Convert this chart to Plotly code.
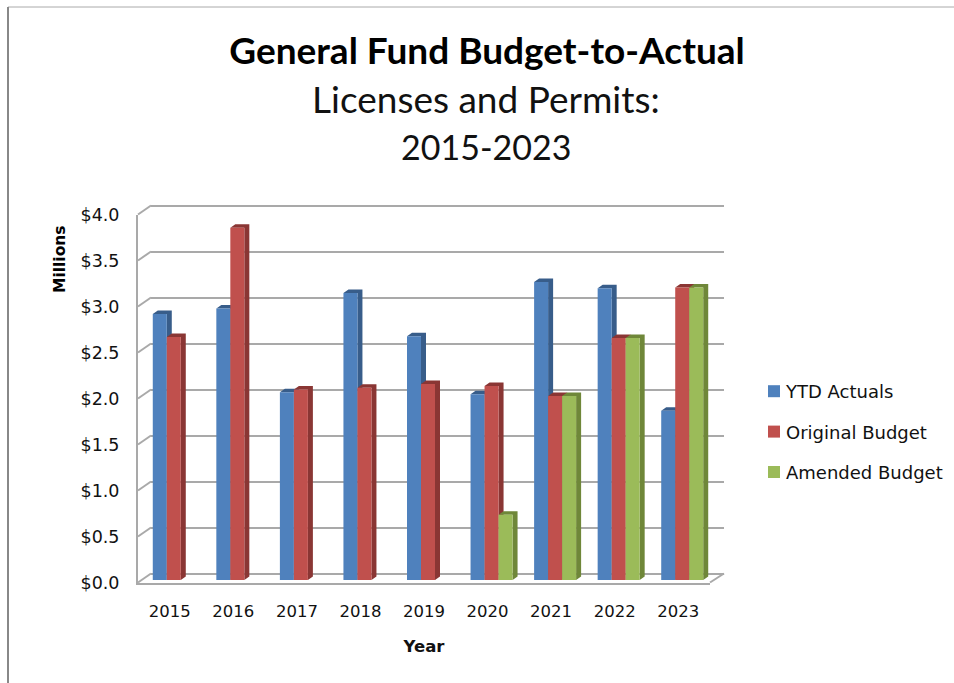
import plotly.graph_objects as go

years = ["2015", "2016", "2017", "2018", "2019", "2020", "2021", "2022", "2023"]
ytd_actuals = [2.89, 2.95, 2.04, 3.12, 2.65, 2.02, 3.24, 3.17, 1.84]
original_budget = [2.64, 3.83, 2.07, 2.09, 2.13, 2.11, 2.00, 2.63, 3.18]
amended_budget = [None, None, None, None, None, 0.71, 2.00, 2.63, 3.18]
y_ticks = [0, 0.5, 1, 1.5, 2, 2.5, 3, 3.5, 4]
y_labels = ["$0.0", "$0.5", "$1.0", "$1.5", "$2.0", "$2.5", "$3.0", "$3.5", "$4.0"]

W, H = 954, 683
FONT = "DejaVu Sans"
TXT = "#111111"
GRID = "#a9a9a9"
BAR_W = 14 / 63.55
DX = 5 / 63.55
DY = 3.5 / 92
GAP = 1 - 3 * BAR_W
xpos = list(range(len(years)))
series = [
    ("YTD Actuals", ytd_actuals, "#4f81bd", "#385d8a", -1),
    ("Original Budget", original_budget, "#c0504d", "#8a3634", 0),
    ("Amended Budget", amended_budget, "#9bbb59", "#6f8739", 1),
]


def px(x):
    return x / W


def py(y):
    return 1 - y / H


fig = go.Figure()

# Bevel (depth faces) drawn under the front faces, derived from the values
for name, vals, col, dark, k in series:
    xs, ys = [], []
    for i, v in zip(xpos, vals):
        if v is None:
            continue
        l = i + (k - 0.5) * BAR_W
        r = l + BAR_W
        xs += [l, l + DX, r + DX, r + DX, r, r, None]
        ys += [v, v + DY, v + DY, DY, 0, v, None]
    fig.add_trace(go.Scatter(x=xs, y=ys, mode="lines", fill="toself", fillcolor=dark,
                             line=dict(width=0, color=dark), hoverinfo="skip",
                             showlegend=False, xaxis="x2", yaxis="y2"))

# Front faces
for name, vals, col, dark, k in series:
    fig.add_trace(go.Bar(x=xpos, y=vals, name=name, marker=dict(color=col, line=dict(width=0)),
                         legendgroup=name, xaxis="x3", yaxis="y3"))

# Invisible traces that anchor the back wall and the front axes
fig.add_trace(go.Scatter(x=[0], y=[0], mode="markers", marker=dict(opacity=0), showlegend=False,
                         hoverinfo="skip", xaxis="x", yaxis="y"))
fig.add_trace(go.Scatter(x=[0], y=[0], mode="markers", marker=dict(opacity=0), showlegend=False,
                         hoverinfo="skip", xaxis="x4", yaxis="y4"))

xrange = [-0.5, len(years) - 0.5]
hidden = dict(showticklabels=False, showgrid=False, zeroline=False, ticks="", showline=False)

# Wall corners and floor
FL, FR, BL, BR = 138, 710, 151, 724
F0, F4, B0, B4 = 582.5, 214.5, 573.5, 205.5
PAD = 0.1
UNIT = (B0 - B4) / 4
shapes = []
for t in y_ticks:
    fy = F0 + (F4 - F0) * t / 4
    by = B0 + (B4 - B0) * t / 4
    shapes.append(dict(type="line", xref="paper", yref="paper", x0=px(FL), y0=py(fy), x1=px(BL), y1=py(by),
                       line=dict(color=GRID, width=2), layer="below"))
shapes.append(dict(type="line", xref="paper", yref="paper", x0=px(FR), y0=py(F0), x1=px(BR), y1=py(B0),
                   line=dict(color=GRID, width=2), layer="below"))
# Screenshot border
shapes.append(dict(type="line", xref="paper", yref="paper", x0=px(8), y0=py(7), x1=1, y1=py(7),
                   line=dict(color="#aaaaaa", width=1)))
shapes.append(dict(type="line", xref="paper", yref="paper", x0=px(8), y0=py(7), x1=px(8), y1=0,
                   line=dict(color="#888888", width=2)))

fig.update_layout(
    width=W, height=H, autosize=False,
    margin=dict(l=0, r=0, t=0, b=0, pad=0, autoexpand=False),
    paper_bgcolor="white", plot_bgcolor="rgba(0,0,0,0)",
    barmode="group", bargap=GAP, bargroupgap=0,
    font=dict(family=FONT, color=TXT),
    shapes=shapes,
    title=dict(text="<b>General Fund Budget-to-Actual</b>", x=487 / W, xanchor="center",
               y=py(51), yanchor="middle", xref="paper", yref="paper",
               font=dict(family="Lato", size=37, color="#000000")),
    annotations=[
        dict(text="Licenses and Permits:", x=px(486), y=py(98), xref="paper", yref="paper", showarrow=False,
             xanchor="center", yanchor="middle", font=dict(family="Lato", size=37, color="#111111")),
        dict(text="2015-2023", x=px(486), y=py(146), xref="paper", yref="paper", showarrow=False,
             xanchor="center", yanchor="middle", font=dict(family="Lato", size=34, color="#111111")),
        dict(text="<b>Millions</b>", x=px(60), y=py(259), xref="paper", yref="paper", showarrow=False, textangle=-90,
             xanchor="center", yanchor="middle", font=dict(family=FONT, size=15.5, color="#000000")),
    ],
    legend=dict(x=px(746), y=py(373), xanchor="left", yanchor="top", yref="paper",
                font=dict(family=FONT, size=18, color=TXT), tracegroupgap=14,
                traceorder="grouped", bgcolor="rgba(0,0,0,0)", itemclick=False, itemdoubleclick=False),
    # back wall
    xaxis=dict(domain=[px(BL), px(BR)], range=xrange, anchor="y", **hidden),
    yaxis=dict(domain=[py(B0 + PAD * UNIT), py(B4 - PAD * UNIT)], range=[-PAD, 4 + PAD], anchor="x", tickvals=y_ticks,
               showgrid=True, gridcolor=GRID, gridwidth=2, showticklabels=False, zeroline=False, ticks="",
               showline=False),
    # bevel plane
    xaxis2=dict(domain=[px(142), px(714)], range=xrange, anchor="y2", **hidden),
    yaxis2=dict(domain=[py(580), py(212)], range=[0, 4], anchor="x2", **hidden),
    # front faces plane
    xaxis3=dict(domain=[px(142), px(714)], range=xrange, anchor="y3", **hidden),
    yaxis3=dict(domain=[py(580), py(212)], range=[0, 4], anchor="x3", **hidden),
    # front axes
    xaxis4=dict(domain=[px(FL), px(FR)], range=xrange, anchor="y4", tickvals=xpos, ticktext=years,
                showline=True, linecolor=GRID, linewidth=2, ticks="", showgrid=False, zeroline=False,
                tickfont=dict(family=FONT, size=16.5, color=TXT), ticklabelstandoff=13,
                title=dict(text="<b>Year</b>", standoff=20, font=dict(family=FONT, size=16.5, color="#111111"))),
    yaxis4=dict(domain=[py(F0), py(F4)], range=[0, 4], anchor="x4", tickvals=y_ticks, ticktext=y_labels,
                showline=True, linecolor=GRID, linewidth=2, ticks="", showgrid=False, zeroline=False,
                tickfont=dict(family=FONT, size=17.5, color=TXT), ticklabelstandoff=13),
)

post = """
document.body.style.margin = '0';
document.querySelectorAll('.legendsymbols').forEach(function (g) {
  g.setAttribute('transform', 'translate(8,0)');
});
"""
fig.write_html("out.html", post_script=post, config={"displayModeBar": False})
